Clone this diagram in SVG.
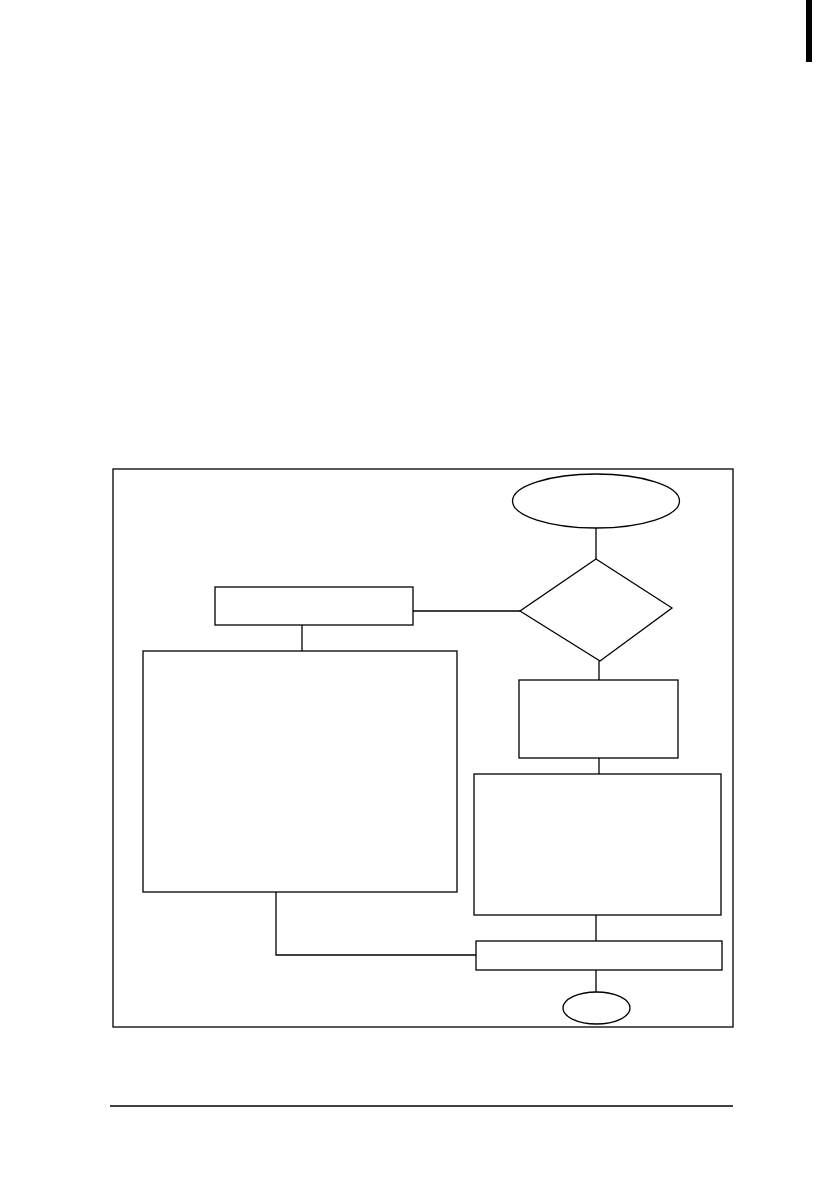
<svg xmlns="http://www.w3.org/2000/svg" width="840" height="1190" viewBox="0 0 840 1190">
<style>
.s{fill:#fff;stroke:#000;stroke-width:1.3}
.c{fill:none;stroke:#000;stroke-width:1.3}
</style>
<rect x="0" y="0" width="840" height="1190" fill="#fff"/>
<rect x="806" y="0" width="6" height="62" fill="#000"/>
<rect id="frame" class="s" x="113" y="469" width="620" height="558"/>
<line x1="110" y1="1106" x2="733" y2="1106" stroke="#000" stroke-width="1.3"/>
<g id="connectors">
<line class="c" x1="596" y1="528" x2="596" y2="559"/>
<line class="c" x1="413" y1="611" x2="520" y2="611"/>
<line class="c" x1="302" y1="625" x2="302" y2="651"/>
<polyline class="c" points="276,892 276,955 476,955"/>
<line class="c" x1="599" y1="661" x2="599" y2="680"/>
<line class="c" x1="599" y1="758" x2="599" y2="774"/>
<line class="c" x1="596" y1="915" x2="596" y2="941"/>
<line class="c" x1="596" y1="970" x2="596" y2="992"/>
</g>
<g id="start"><ellipse class="s" cx="596" cy="501" rx="83.5" ry="27"/></g>
<g id="decision"><polygon class="s" points="596,559 672,608 600,661 520,611"/></g>
<g id="box-a"><rect class="s" x="215" y="587" width="198" height="38"/></g>
<g id="box-b"><rect class="s" x="143" y="651" width="314" height="241"/></g>
<g id="box-c"><rect class="s" x="519" y="680" width="159" height="78"/></g>
<g id="box-d"><rect class="s" x="474" y="774" width="247" height="141"/></g>
<g id="box-e"><rect class="s" x="476" y="941" width="246" height="29"/></g>
<g id="end"><ellipse class="s" cx="596.5" cy="1008" rx="33.5" ry="16"/></g>
</svg>
